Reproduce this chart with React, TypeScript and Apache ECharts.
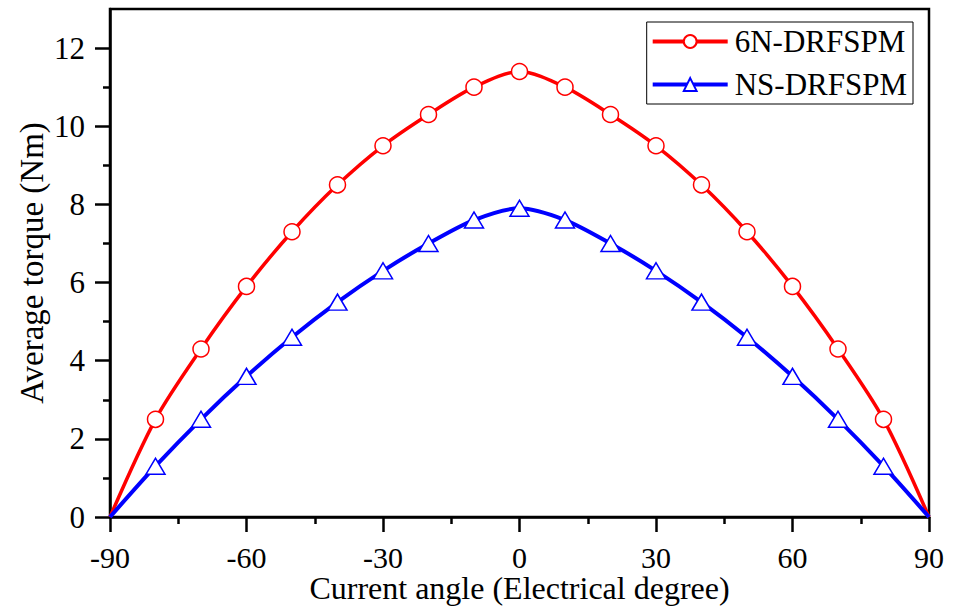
import React, { useEffect, useRef } from "react";
import * as echarts from "echarts";

const angles = [-90, -80, -70, -60, -50, -40, -30, -20, -10, 0, 10, 20, 30, 40, 50, 60, 70, 80, 90];
const torque6N = [0, 2.5, 4.3, 5.9, 7.3, 8.5, 9.5, 10.3, 11.0, 11.4, 11.0, 10.3, 9.5, 8.5, 7.3, 5.9, 4.3, 2.5, 0];
const torqueNS = [0, 1.3, 2.5, 3.6, 4.6, 5.5, 6.3, 7.0, 7.6, 7.9, 7.6, 7.0, 6.3, 5.5, 4.6, 3.6, 2.5, 1.3, 0];
const yMajorTicks = [0, 2, 4, 6, 8, 10, 12];
const yMinorTicks = [1, 3, 5, 7, 9, 11];
const seriesNames = ["6N-DRFSPM", "NS-DRFSPM"];

const FONT = "Liberation Serif";

export default function App() {
  const ref = useRef<HTMLDivElement>(null);
  useEffect(() => {
    if (!ref.current) return;
    const chart = echarts.init(ref.current, undefined, { renderer: "svg" });
    const mk = (vals: number[]) =>
      vals.map((v, i) => {
        const item: any = { value: [angles[i], v] };
        if (i === 0 || i === vals.length - 1) item.symbol = "none";
        return item;
      });
    const labelStyle = { fontFamily: FONT, fontSize: 31, color: "#000", fontWeight: "normal", fontStyle: "normal" };
    const nameStyle = { fontFamily: FONT, fontSize: 33, color: "#000", fontWeight: "normal", fontStyle: "normal" };
    chart.setOption({
      animation: false,
      backgroundColor: "#fff",
      textStyle: { fontFamily: FONT },
      grid: {
        left: 110,
        right: 25,
        top: 9,
        bottom: 89,
        containLabel: false,
        outerBoundsMode: "none",
        show: true,
        borderColor: "#000",
        borderWidth: 2.5,
        backgroundColor: "transparent",
      },
      legend: {
        orient: "vertical",
        right: 41,
        top: 22,
        padding: [4, 6, 4, 4],
        itemGap: 12,
        itemWidth: 75,
        itemHeight: 16,
        borderColor: "#000",
        borderWidth: 1,
        backgroundColor: "#fff",
        lineStyle: { width: 4 },
        textStyle: { fontFamily: FONT, fontSize: 31, color: "#000", padding: [0, 0, 0, 2] },
        data: seriesNames,
      },
      xAxis: {
        type: "value",
        min: -90,
        max: 90,
        interval: 30,
        name: "Current angle (Electrical degree)",
        nameLocation: "middle",
        nameGap: 57,
        nameMoveOverlap: false,
        nameTextStyle: { ...nameStyle, fontSize: 32, lineHeight: 28 },
        axisLine: { show: true, onZero: false, lineStyle: { color: "#000", width: 2.5 } },
        axisTick: { show: true, inside: false, length: 15, lineStyle: { color: "#000", width: 2.5 } },
        minorTick: { show: true, splitNumber: 2, length: 7, lineStyle: { color: "#000", width: 2.5 } },
        axisLabel: { ...labelStyle, fontSize: 30, lineHeight: 24, margin: 28 },
        splitLine: { show: false },
      },
      yAxis: [
        {
          type: "value",
          min: 0,
          max: 13,
          name: "Average torque (Nm)",
          nameLocation: "middle",
          nameGap: 62,
          nameMoveOverlap: false,
          nameTextStyle: nameStyle,
          axisLine: { show: true, onZero: false, lineStyle: { color: "#000", width: 2.5 } },
          axisTick: { show: true, length: 15, customValues: yMajorTicks, lineStyle: { color: "#000", width: 2.5 } },
          axisLabel: { ...labelStyle, margin: 25, customValues: yMajorTicks },
          splitLine: { show: false },
        },
        {
          type: "value",
          min: 0,
          max: 13,
          position: "left",
          offset: 0,
          axisLine: { show: false, onZero: false },
          axisTick: { show: true, length: 7, customValues: yMinorTicks, lineStyle: { color: "#000", width: 2.5 } },
          axisLabel: { show: false },
          splitLine: { show: false },
        },
      ],
      series: [
        {
          name: seriesNames[0],
          type: "line",
          smooth: 0.3,
          data: mk(torque6N),
          symbol: "circle",
          symbolSize: 16,
          lineStyle: { color: "#ff0000", width: 3.5 },
          itemStyle: { color: "#fff", borderColor: "#ff0000", borderWidth: 1.5 },
          z: 3,
        },
        {
          name: seriesNames[1],
          type: "line",
          smooth: 0.3,
          data: mk(torqueNS),
          symbol: "triangle",
          symbolSize: [19, 16],
          lineStyle: { color: "#0000ff", width: 4 },
          itemStyle: { color: "#fff", borderColor: "#0000ff", borderWidth: 1.5 },
          z: 3,
        },
      ],
    });
    return () => chart.dispose();
  }, []);
  return (
    <div
      ref={ref}
      style={{ position: "fixed", left: 0, top: 0, width: 954, height: 606, background: "#fff" }}
    />
  );
}
